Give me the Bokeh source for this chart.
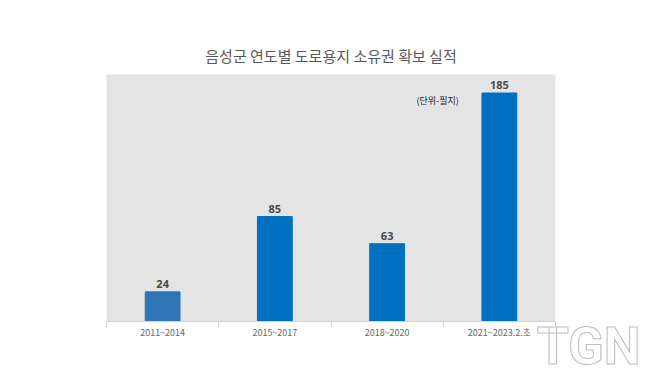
from bokeh.plotting import figure
from bokeh.models import Range1d, FixedTicker, Label, ColumnDataSource, Title
from bokeh.embed import file_html
from bokeh.resources import INLINE
from bokeh.core.properties import value

title = "음성군 연도별 도로용지 소유권 확보 실적"
categories = ["2011~2014", "2015~2017", "2018~2020", "2021~2023.2.초"]
counts = [24, 85, 63, 185]
unit_note = "(단위-필지)"
watermark = "TGN"

bar_colors = ["#2E75B6", "#0070C0", "#0070C0", "#0070C0"]
xs = list(range(len(categories)))

src = ColumnDataSource(dict(x=xs, y=counts, label=[str(v) for v in counts], color=bar_colors))

p = figure(width=650, height=367, output_backend="svg", toolbar_location=None,
           x_range=Range1d(-0.5, len(categories) - 0.5), y_range=Range1d(0, 200),
           min_border_left=106, min_border_right=95, min_border_top=74, min_border_bottom=46)

p.background_fill_color = "#E5E4E4"
p.border_fill_color = "white"
p.outline_line_color = None
p.grid.visible = False
p.yaxis.visible = False

p.title.text = title
p.title.align = "center"
p.title.text_font = "Noto Sans CJK KR"
p.title.text_font_size = "15px"
p.title.text_font_style = "normal"
p.title.text_color = "#595959"
p.title.standoff = 18

p.vbar(x="x", top="y", width=0.31, color="color", source=src)
p.text(x="x", y="y", text="label", source=src, text_align="center", text_baseline="bottom",
       y_offset=-4, text_font=value("Noto Sans"), text_font_size="11px",
       text_font_style="bold", text_color="#4a4a4a")

ax = p.xaxis[0]
ax.ticker = FixedTicker(ticks=xs, minor_ticks=[i - 0.5 for i in range(len(categories) + 1)])
ax.major_label_overrides = {i: c for i, c in enumerate(categories)}
ax.major_tick_line_color = None
ax.major_tick_in = 0
ax.major_tick_out = 0
ax.minor_tick_in = 0
ax.minor_tick_out = 6
ax.minor_tick_line_color = "#D4D4D4"
ax.axis_line_color = "#D4D4D4"
ax.major_label_standoff = -2
ax.major_label_text_font = "Noto Sans CJK KR"
ax.major_label_text_font_size = "9px"
ax.major_label_text_color = "#666666"

p.add_layout(Label(x=2.45, y=179, text=unit_note, text_align="center", text_baseline="middle",
                   text_font="Noto Sans CJK KR", text_font_size="9px", text_color="#222222"))

wm = Title(text=watermark, align="right", vertical_align="top", offset=-85, standoff=-52,
           text_font="Roboto", text_font_size="52px", text_font_style="bold",
           text_color="white", text_outline_color="#BDBDBD")
p.add_layout(wm, "below")

open("out.html", "w").write(file_html(p, INLINE))
